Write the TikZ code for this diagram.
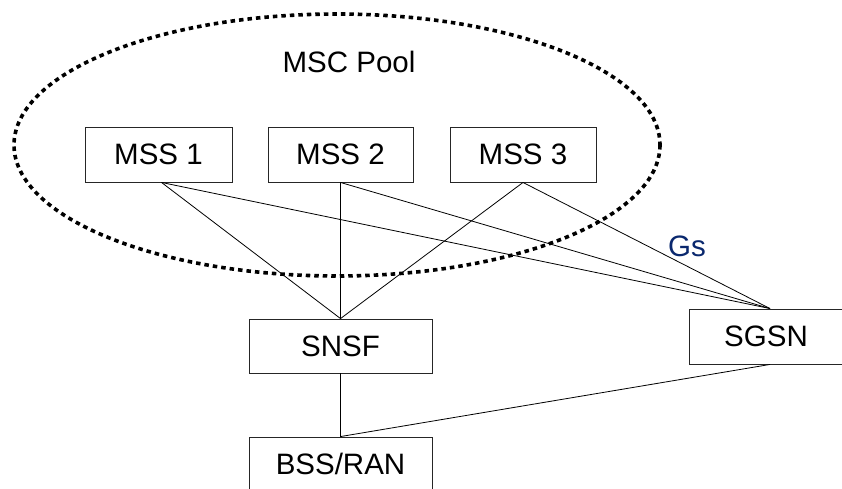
\documentclass[tikz,border=0pt]{standalone}
\usepackage{fontspec}
\setmainfont{Liberation Sans}
\definecolor{gsblue}{RGB}{10,40,110}
\begin{document}
\begin{tikzpicture}[x=1pt,y=-1pt,
  box/.style={draw=black!85, line width=0.9pt, inner sep=0pt, minimum height=55pt, font=\fontsize{29.5}{34}\selectfont},
  link/.style={draw=black, line width=0.8pt},
  lbl/.style={inner sep=0pt, font=\fontsize{29.5}{34}\selectfont}]
\useasboundingbox (0,0) rectangle (842,488);
\fill[white] (0,0) rectangle (842,488);
\draw[line width=3.6pt, dash pattern=on 4.5pt off 4pt] (337,145) ellipse [x radius=323, y radius=131];
\node[lbl] (pool) at (349,62) {MSC Pool};
\node[box, minimum width=147pt] (m1) at (158.5,154.5) {MSS 1};
\node[box, minimum width=145pt] (m2) at (340.5,154.5) {MSS 2};
\node[box, minimum width=146pt] (m3) at (523,154.5) {MSS 3};
\node[box, minimum width=183pt, minimum height=54pt] (snsf) at (340.5,346) {SNSF};
\node[box, minimum width=183pt, minimum height=54pt] (bss) at (340.5,464) {BSS/RAN};
\node[box, minimum width=154pt] (sgsn) at (766,336.5) {SGSN};
\node[lbl, text=gsblue] (gs) at (687,246) {Gs};
\coordinate (m1s) at ([xshift=3pt]m1.south);
\coordinate (sgn) at ([xshift=4pt]sgsn.north);
\coordinate (sgs) at ([xshift=4pt]sgsn.south);
\draw[link] (m1s) -- (snsf.north);
\draw[link] (m1s) -- (sgn);
\draw[link] (m2.south) -- (snsf.north);
\draw[link] (m2.south) -- (sgn);
\draw[link] (m3.south) -- (snsf.north);
\draw[link] (m3.south) -- (sgn);
\draw[link] (snsf.south) -- (bss.north);
\draw[link] (sgs) -- (bss.north);
\end{tikzpicture}
\end{document}
